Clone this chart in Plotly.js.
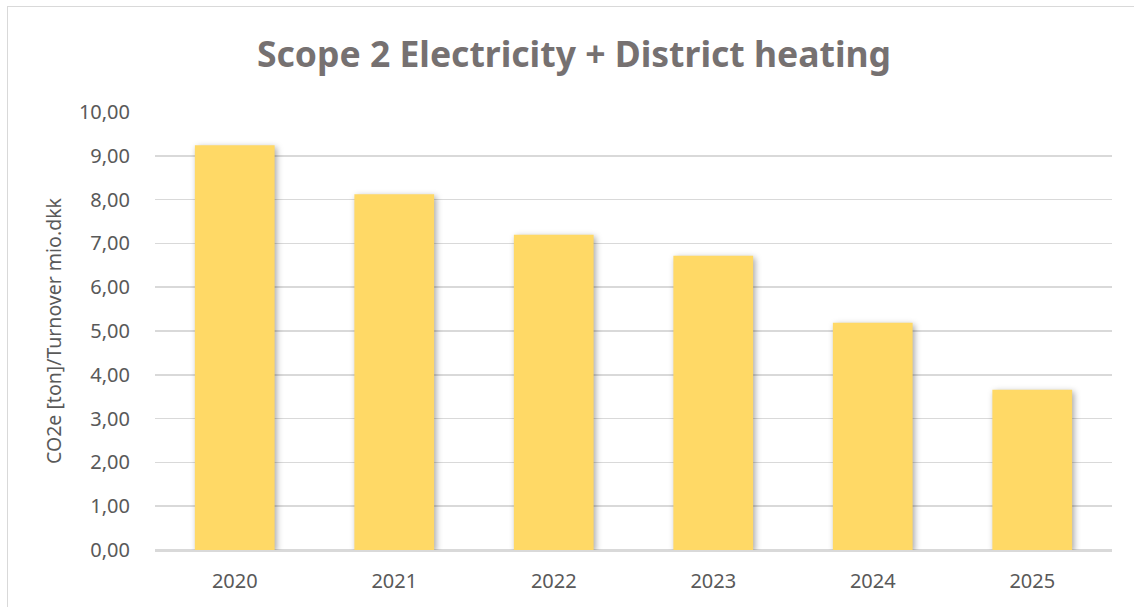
<!DOCTYPE html>
<html>
<head>
<meta charset="utf-8">
<script src="https://cdn.plot.ly/plotly-3.0.1.min.js"></script>
<style>
  html, body { margin: 0; padding: 0; background: #ffffff; }
  #wrap { position: relative; width: 1134px; height: 607px; overflow: hidden; }
  #chart { width: 1134px; height: 607px; }
  #frame { position: absolute; left: 7px; top: 6px; width: 1200px; height: 700px;
           border-left: 1.5px solid #d9d9d9; border-top: 1.5px solid #d9d9d9; pointer-events: none; }
  .barlayer .point path { filter: drop-shadow(2px 2px 3px rgba(0,0,0,0.35)); }
</style>
</head>
<body>
<div id="wrap">
  <div id="chart"></div>
  <div id="frame"></div>
</div>
<script>
const years = ["2020", "2021", "2022", "2023", "2024", "2025"];
const values = [9.24, 8.12, 7.20, 6.72, 5.19, 3.66];
const chartTitle = "Scope 2 Electricity + District heating";
const yTitle = "CO2e [ton]/Turnover mio.dkk";

const trace = {
  type: "bar",
  x: years,
  y: values,
  marker: { color: "#FFD966", line: { width: 0 } },
  hoverinfo: "x+y"
};

const layout = {
  width: 1134,
  height: 607,
  paper_bgcolor: "#ffffff",
  plot_bgcolor: "#ffffff",
  separators: ",.",
  margin: { l: 155, r: 22, t: 112, b: 57 },
  bargap: 0.5,
  showlegend: false,
  font: { family: "Noto Sans, Open Sans, sans-serif", color: "#595959" },
  title: {
    text: "<b>" + chartTitle + "</b>",
    font: { family: "Noto Sans, Open Sans, sans-serif", size: 35.5, color: "#767171" },
    x: 574 / 1134, xanchor: "center", xref: "container",
    y: 1 - 55 / 607, yanchor: "middle", yref: "container"
  },
  xaxis: {
    type: "category",
    showgrid: false,
    showline: true,
    linecolor: "#d9d9d9",
    linewidth: 1.5,
    ticks: "",
    ticklabelstandoff: 12,
    tickfont: { size: 20, color: "#595959" },
    fixedrange: true
  },
  yaxis: {
    range: [0, 10],
    dtick: 1,
    tick0: 0,
    tickformat: ".2f",
    showgrid: true,
    gridcolor: "#d9d9d9",
    gridwidth: 1.5,
    zeroline: true,
    zerolinecolor: "#d9d9d9",
    zerolinewidth: 1.5,
    showline: false,
    ticks: "",
    ticklabelstandoff: 24,
    tickfont: { size: 20, color: "#595959" },
    title: {
      text: yTitle,
      font: { size: 19.5, color: "#595959" },
      standoff: 12
    },
    automargin: false,
    fixedrange: true
  }
};

Plotly.newPlot("chart", [trace], layout, { displayModeBar: false, staticPlot: true });
</script>
</body>
</html>
